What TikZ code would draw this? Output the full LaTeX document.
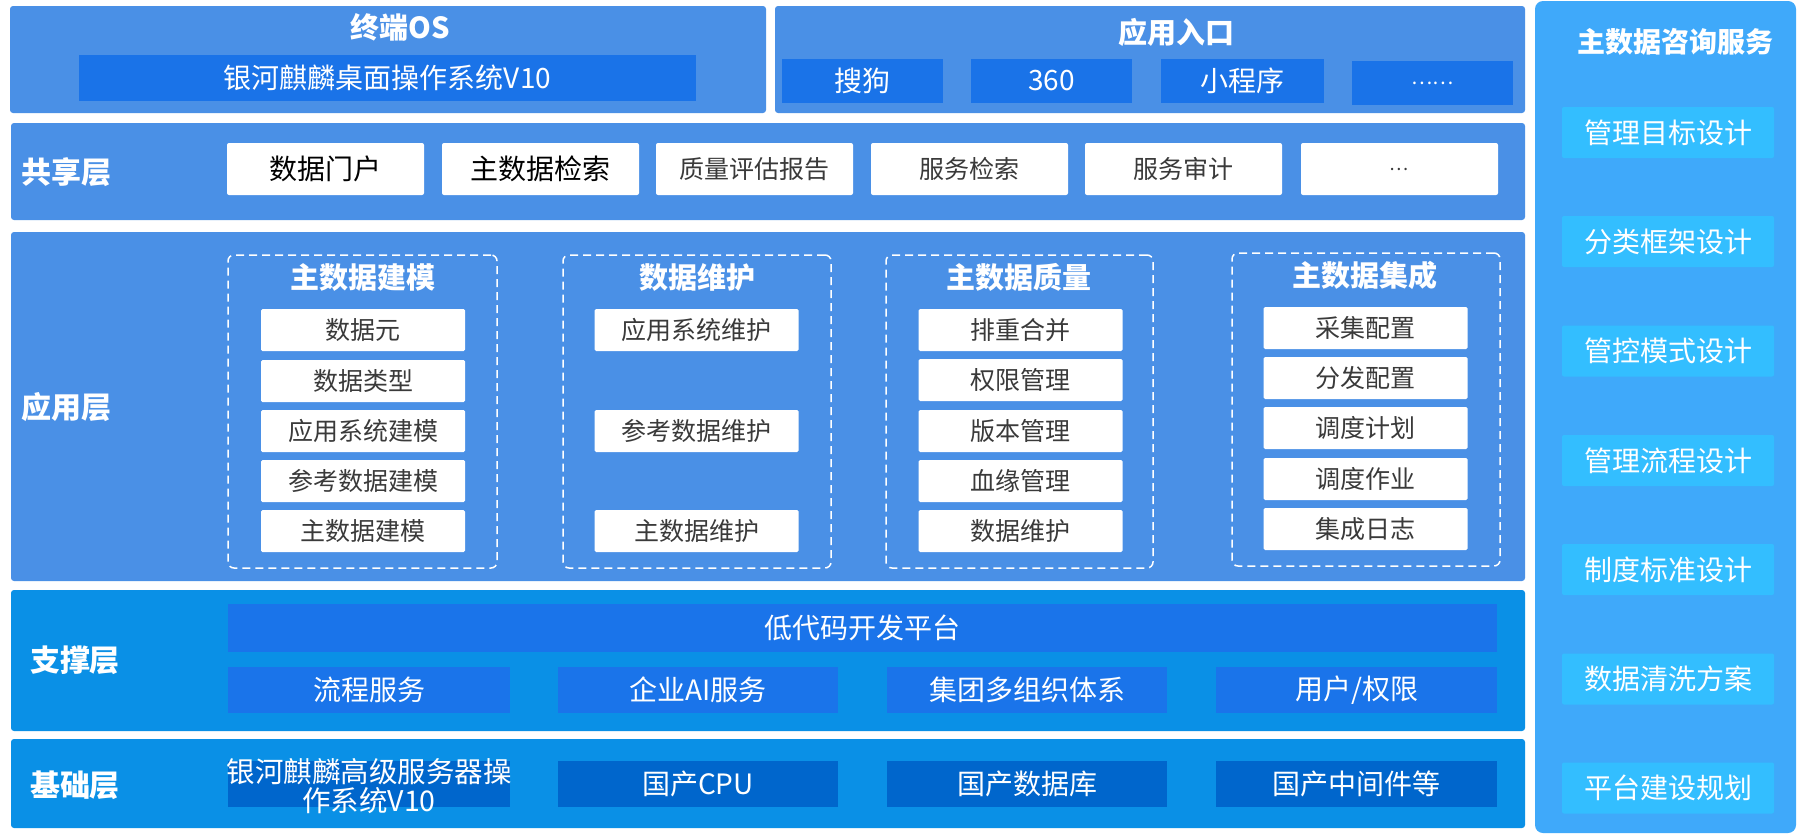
\documentclass[tikz,border=0pt]{standalone}
\usepackage{fontspec}
\setmainfont{Noto Sans CJK SC}
\newfontfamily\cjk{Noto Sans CJK SC}
\definecolor{layerA}{HTML}{4A90E6}
\definecolor{barA}{HTML}{1A73E8}
\definecolor{layerB}{HTML}{0A90E6}
\definecolor{barB}{HTML}{1A74EA}
\definecolor{barC}{HTML}{0066CC}
\definecolor{panel}{HTML}{3FA9FA}
\definecolor{pbox}{HTML}{33BEFF}
\definecolor{txtgray}{HTML}{3A3A3A}
\newcommand{\fsz}[1]{\fontsize{#1}{#1}\selectfont}
\tikzset{
  layerbox/.style={fill=layerA, rounded corners=3pt, inner sep=0pt},
  layerboxB/.style={fill=layerB, rounded corners=3pt, inner sep=0pt},
  panelbox/.style={fill=panel, rounded corners=8pt, inner sep=0pt},
  darkbar/.style={fill=barA, inner sep=0pt, text=white, font=\cjk\fsz{28}},
  supbar/.style={fill=barB, inner sep=0pt, text=white, font=\cjk\fsz{28}},
  basebar/.style={fill=barC, inner sep=0pt, text=white, font=\cjk\fsz{28}},
  whitebox/.style={fill=white, rounded corners=2pt, inner sep=0pt, text=txtgray, font=\cjk\fsz{25}},
  whiteboxbig/.style={fill=white, rounded corners=2pt, inner sep=0pt, text=black, font=\cjk\fsz{28}},
  itembox/.style={fill=white, rounded corners=1.5pt, inner sep=0pt, text=txtgray, font=\cjk\fsz{25}, minimum width=204pt, minimum height=42pt},
  rbox/.style={fill=pbox, rounded corners=2pt, inner sep=0pt, text=white, font=\cjk\fsz{28}, minimum width=212pt, minimum height=51pt},
  grp/.style={draw=white, line width=1.5pt, dash pattern=on 8pt off 5pt, rounded corners=6pt, inner sep=0pt},
  lbl/.style={text=white, font=\cjk\bfseries\fsz{30}, inner sep=0pt},
  gtitle/.style={text=white, font=\cjk\bfseries\fsz{29}, inner sep=0pt},
}
\begin{document}
\begin{tikzpicture}[x=1pt,y=-1pt]
\useasboundingbox (0,0) rectangle (1799,835);
\fill[white] (0,0) rectangle (1799,835);

% top row
\node[layerbox, minimum width=756pt, minimum height=107pt] (top1) at (388,59.5) {};
\node[lbl, font=\cjk\bfseries\fsz{29}] (top1t) at (400,27) {终端OS};
\node[darkbar, minimum width=617pt, minimum height=46pt] (os) at (387.5,78) {银河麒麟桌面操作系统V10};

\node[layerbox, minimum width=750pt, minimum height=107pt] (top2) at (1150,59.5) {};
\node[lbl, font=\cjk\bfseries\fsz{29}] (top2t) at (1176,32) {应用入口};
\node[darkbar, minimum width=161pt, minimum height=44pt] (e1) at (862.5,81) {搜狗};
\node[darkbar, minimum width=161pt, minimum height=44pt] (e2) at (1051.5,81) {360};
\node[darkbar, minimum width=163pt, minimum height=44pt] (e3) at (1242.5,81) {小程序};
\node[darkbar, minimum width=161pt, minimum height=44pt, font=\cjk\fsz{20}] (e4) at (1432.5,83) {……};

% shared layer
\node[layerbox, minimum width=1514pt, minimum height=97pt] (shared) at (768,171.5) {};
\node[lbl] (sharedl) at (66,172) {共享层};
\node[whiteboxbig, minimum width=197pt, minimum height=52pt] (s1) at (325.5,169) {数据门户};
\node[whiteboxbig, minimum width=197pt, minimum height=52pt] (s2) at (540.5,169) {主数据检索};
\node[whitebox, minimum width=197pt, minimum height=52pt] (s3) at (754.5,169) {质量评估报告};
\node[whitebox, minimum width=197pt, minimum height=52pt] (s4) at (969.5,169) {服务检索};
\node[whitebox, minimum width=197pt, minimum height=52pt] (s5) at (1183.5,169) {服务审计};
\node[whitebox, minimum width=197pt, minimum height=52pt, font=\cjk\fsz{18}] (s6) at (1399.5,169) {…};

% application layer
\node[layerbox, minimum width=1514pt, minimum height=349pt] (app) at (768,406.5) {};
\node[lbl] (appl) at (66,407) {应用层};

\node[grp, minimum width=269pt, minimum height=313pt] (g1) at (362.5,411.5) {};
\node[gtitle] (g1t) at (363,277) {主数据建模};
\node[itembox] (g1a) at (363,330) {数据元};
\node[itembox] (g1b) at (363,381) {数据类型};
\node[itembox] (g1c) at (363,431) {应用系统建模};
\node[itembox] (g1d) at (363,481) {参考数据建模};
\node[itembox] (g1e) at (363,531) {主数据建模};

\node[grp, minimum width=268pt, minimum height=313pt] (g2) at (697,411.5) {};
\node[gtitle] (g2t) at (697,277) {数据维护};
\node[itembox] (g2a) at (696.5,330) {应用系统维护};
\node[itembox] (g2b) at (696.5,431) {参考数据维护};
\node[itembox] (g2c) at (696.5,531) {主数据维护};

\node[grp, minimum width=267pt, minimum height=313pt] (g3) at (1019.5,411.5) {};
\node[gtitle] (g3t) at (1019,277) {主数据质量};
\node[itembox] (g3a) at (1020.5,330) {排重合并};
\node[itembox] (g3b) at (1020.5,380) {权限管理};
\node[itembox] (g3c) at (1020.5,431) {版本管理};
\node[itembox] (g3d) at (1020.5,481) {血缘管理};
\node[itembox] (g3e) at (1020.5,531) {数据维护};

\node[grp, minimum width=268pt, minimum height=313pt] (g4) at (1366,409.5) {};
\node[gtitle] (g4t) at (1365,275) {主数据集成};
\node[itembox] (g4a) at (1365.5,328) {采集配置};
\node[itembox] (g4b) at (1365.5,378) {分发配置};
\node[itembox] (g4c) at (1365.5,428) {调度计划};
\node[itembox] (g4d) at (1365.5,479) {调度作业};
\node[itembox] (g4e) at (1365.5,529) {集成日志};

% support layer
\node[layerboxB, minimum width=1514pt, minimum height=141pt] (sup) at (768,660.5) {};
\node[lbl] (supl) at (75,660) {支撑层};
\node[supbar, minimum width=1269pt, minimum height=48pt] (lc) at (862.5,628) {低代码开发平台};
\node[supbar, minimum width=282pt, minimum height=46pt] (p1) at (369,690) {流程服务};
\node[supbar, minimum width=280pt, minimum height=46pt] (p2) at (698,690) {企业AI服务};
\node[supbar, minimum width=280pt, minimum height=46pt] (p3) at (1027,690) {集团多组织体系};
\node[supbar, minimum width=281pt, minimum height=46pt] (p4) at (1356.5,690) {用户/权限};

% base layer
\node[layerboxB, minimum width=1514pt, minimum height=89pt] (base) at (768,783.5) {};
\node[lbl] (basel) at (75,785) {基础层};
\node[basebar, minimum width=282pt, minimum height=46pt] (b1) at (369,784) {};
\node[text=white, font=\cjk\fsz{28.5}, align=center, inner sep=0pt] (b1t) at (369,786) {\fontsize{28.5}{28.5}\selectfont 银河麒麟高级服务器操\\作系统V10};
\node[basebar, minimum width=280pt, minimum height=46pt] (b2) at (698,784) {国产CPU};
\node[basebar, minimum width=280pt, minimum height=46pt] (b3) at (1027,784) {国产数据库};
\node[basebar, minimum width=281pt, minimum height=46pt] (b4) at (1356.5,784) {国产中间件等};

% right panel
\node[panelbox, minimum width=261pt, minimum height=832pt] (rp) at (1665.5,417) {};
\node[lbl, font=\cjk\bfseries\fsz{28}] (rpt) at (1675,42) {主数据咨询服务};
\node[rbox] (r1) at (1668,132.5) {管理目标设计};
\node[rbox] (r2) at (1668,241.5) {分类框架设计};
\node[rbox] (r3) at (1668,351) {管控模式设计};
\node[rbox] (r4) at (1668,460.5) {管理流程设计};
\node[rbox] (r5) at (1668,569.5) {制度标准设计};
\node[rbox] (r6) at (1668,679) {数据清洗方案};
\node[rbox] (r7) at (1668,788) {平台建设规划};
\end{tikzpicture}
\end{document}
